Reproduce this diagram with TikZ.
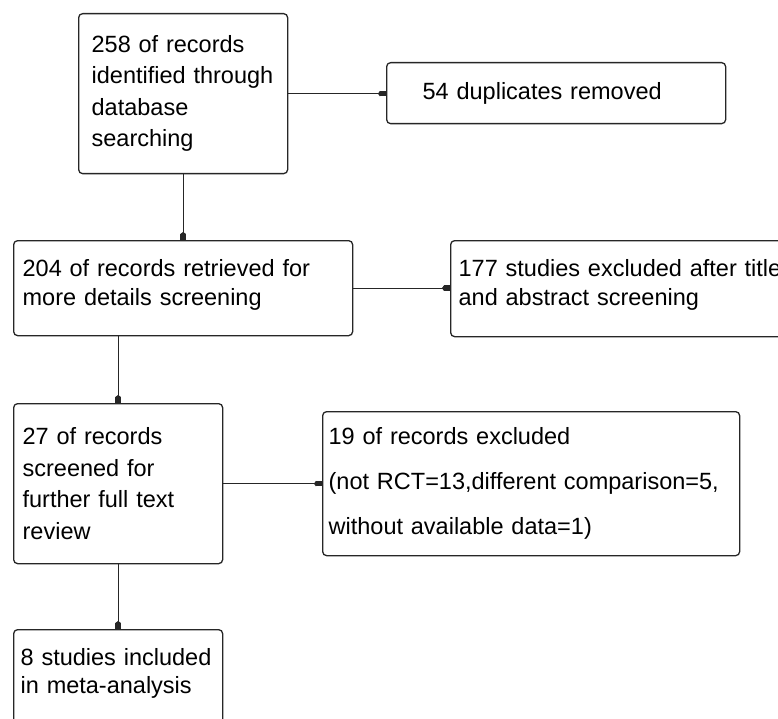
\documentclass[tikz,border=0pt]{standalone}
\usepackage{fontspec}
\setmainfont{Liberation Sans}
\usetikzlibrary{arrows.meta}

\begin{document}
\begin{tikzpicture}[
        x=1pt, y=-1pt, % pixel grid, y downwards
        rec/.style={draw=black!85, line width=1.3pt, rounded corners=4pt, anchor=north west, align=left, inner ysep=0pt}, % boxes
        arr/.style={draw=black!85, line width=1.3pt, -{Triangle[reversed,length=2pt,width=5.5pt]Rectangle[length=6pt,width=5.5pt]}},
    ]
    \useasboundingbox (0,0) rectangle (778,719);
    \clip (0,0) rectangle (778,719);

    \node[rec, text width=183pt, inner xsep=13pt, minimum height=160pt, font=\fontsize{23.5}{31.5}\selectfont] (ident) at (78,13)
        {258 of records\\identified through\\database\\searching};
    \node[rec, text width=267pt, inner xsep=36pt, minimum height=61pt, font=\fontsize{23.5}{29}\selectfont] (dupl) at (386,62)
        {54 duplicates removed};
    \node[rec, text width=321pt, inner xsep=9pt, minimum height=95pt, text depth=41pt, font=\fontsize{23.5}{29}\selectfont] (retr) at (13,240)
        {204 of records retrieved for\\more details screening};
    \node[rec, text width=400pt, inner xsep=8pt, minimum height=96pt, text depth=42pt, font=\fontsize{23.5}{29}\selectfont] (excl) at (450,240)
        {177 studies excluded after title\\and abstract screening};
    \node[rec, text width=191pt, inner xsep=9pt, minimum height=160pt, font=\fontsize{23.5}{31.5}\selectfont] (full) at (13,403)
        {27 of records\\screened for\\further full text\\review};
    \node[rec, text width=405pt, inner xsep=6pt, minimum height=144pt, font=\fontsize{23.5}{45}\selectfont] (rej) at (322,411)
        {19 of records excluded\\(not RCT=13,different comparison=5,\\without available data=1)};
    \node[rec, text width=195pt, inner xsep=7pt, minimum height=95pt, text depth=41pt, font=\fontsize{23.5}{28}\selectfont] (incl) at (13,629)
        {8 studies included\\in meta-analysis};

    % connectors
    \draw[arr] (ident.east) -- (ident.east -| dupl.west);
    \draw[arr] (ident.south) -- (ident.south |- retr.north);
    \draw[arr] (retr.east) -- (retr.east -| excl.west);
    \draw[arr] (full.north |- retr.south) -- (full.north);
    \draw[arr] (full.east) -- (full.east -| rej.west);
    \draw[arr] (full.south) -- (incl.north);
\end{tikzpicture}
\end{document}
